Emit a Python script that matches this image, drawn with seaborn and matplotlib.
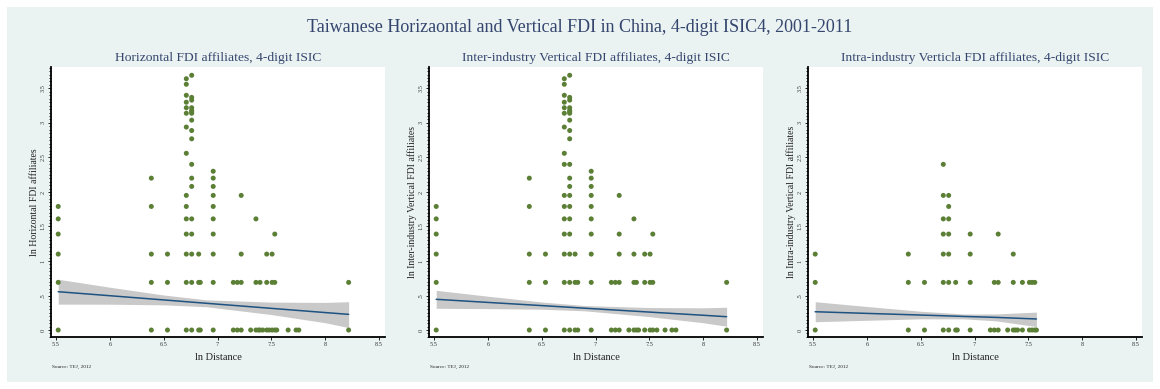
import matplotlib
matplotlib.use("Agg")
import matplotlib.pyplot as plt
from matplotlib.patches import Rectangle
from matplotlib.ticker import MultipleLocator, FixedLocator
import seaborn as sns
import pandas as pd

sns.set_theme(style="white")
plt.rcParams["font.family"] = ["Liberation Serif", "DejaVu Serif"]

# ---- data: ln distance vs ln number of affiliates ----
horiz_dist = [5.52]*6 + [6.385]*5 + [6.535]*3 + [6.71]*15 + [6.76]*18 + [6.825]*3 + [6.84]*2 \
    + [6.96]*10 + [7.147]*2 + [7.184]*2 + [7.22]*4 + [7.308] + [7.357]*3 + [7.38] + [7.395]*2 \
    + [7.42] + [7.457]*3 + [7.48] + [7.507]*3 + [7.532]*3 + [7.55] + [7.656] + [7.73] + [7.755] + [8.218]*2
horiz_aff = [0, 0.69, 1.10, 1.39, 1.61, 1.79,
             0, 0.69, 1.10, 1.79, 2.20,
             0, 0.69, 1.10,
             0, 0.69, 1.10, 1.39, 1.61, 1.79, 1.95, 2.56, 2.94, 3.14, 3.22, 3.30, 3.40, 3.56, 3.64,
             0, 0.69, 1.10, 1.39, 1.61, 2.08, 2.20, 2.40, 2.77, 2.89, 3.04, 3.14, 3.16, 3.18, 3.22, 3.33, 3.37, 3.69,
             0, 0.69, 1.10,
             0, 0.69,
             0, 0.69, 1.10, 1.39, 1.61, 1.79, 1.95, 2.08, 2.20, 2.30,
             0, 0.69,
             0, 0.69,
             0, 0.69, 1.10, 1.95,
             0,
             0, 0.69, 1.61,
             0,
             0, 0.69,
             0,
             0, 0.69, 1.10,
             0,
             0, 0.69, 1.10,
             0, 0.69, 1.39,
             0, 0, 0, 0,
             0, 0.69]

inter_dist = [5.52]*6 + [6.385]*5 + [6.535]*3 + [6.71]*16 + [6.76]*20 + [6.81]*3 + [6.835]*2 \
    + [6.96]*10 + [7.147]*2 + [7.184]*2 + [7.22]*5 + [7.31] + [7.357]*4 + [7.38]*2 + [7.40] \
    + [7.457]*3 + [7.507]*3 + [7.532]*3 + [7.57] + [7.646] + [7.71] + [7.747] + [8.218]*2
inter_aff = [0, 0.69, 1.10, 1.39, 1.61, 1.79,
             0, 0.69, 1.10, 1.79, 2.20,
             0, 0.69, 1.10,
             0, 0.69, 1.10, 1.39, 1.61, 1.79, 1.95, 2.40, 2.56, 2.94, 3.14, 3.22, 3.30, 3.40, 3.56, 3.64,
             0, 0.69, 1.10, 1.39, 1.61, 1.79, 1.95, 2.08, 2.20, 2.40, 2.77, 2.89, 3.04, 3.14, 3.16, 3.18,
             3.22, 3.33, 3.37, 3.69,
             0, 0.69, 1.10,
             0, 0.69,
             0, 0.69, 1.10, 1.39, 1.61, 1.79, 1.95, 2.08, 2.20, 2.30,
             0, 0.69,
             0, 0.69,
             0, 0.69, 1.10, 1.39, 1.95,
             0,
             0, 0.69, 1.10, 1.61,
             0, 0.69,
             0,
             0, 0.69, 1.10,
             0, 0.69, 1.10,
             0, 0.69, 1.39,
             0, 0, 0, 0,
             0, 0.69]

intra_dist = [5.52]*3 + [6.385]*3 + [6.535]*2 + [6.71]*7 + [6.76]*7 + [6.825]*2 + [6.84] \
    + [6.96]*4 + [7.147] + [7.184]*2 + [7.22]*3 + [7.308] + [7.36]*3 + [7.38] + [7.40] \
    + [7.445]*2 + [7.51]*2 + [7.535]*2 + [7.56]*2 + [7.575]
intra_aff = [0, 0.69, 1.10,
             0, 0.69, 1.10,
             0, 0.69,
             0, 0.69, 1.10, 1.39, 1.61, 1.95, 2.40,
             0, 0.69, 1.10, 1.39, 1.61, 1.79, 1.95,
             0, 0.69,
             0,
             0, 0.69, 1.10, 1.39,
             0,
             0, 0.69,
             0, 0.69, 1.39,
             0,
             0, 0.69, 1.10,
             0, 0,
             0, 0.69,
             0, 0.69,
             0, 0.69,
             0, 0.69,
             0]

# linear fit with 95% confidence band
horiz_fit_x = [5.52, 6.0, 6.5, 6.9, 7.5, 8.0, 8.218]
horiz_fit_y = [0.555, 0.497, 0.436, 0.387, 0.314, 0.253, 0.227]
horiz_fit_lo = [0.375, 0.374, 0.365, 0.337, 0.224, 0.106, 0.035]
horiz_fit_hi = [0.735, 0.620, 0.507, 0.437, 0.404, 0.400, 0.410]

inter_fit_x = [5.52, 6.0, 6.5, 6.9, 7.5, 8.0, 8.218]
inter_fit_y = [0.445, 0.400, 0.354, 0.316, 0.260, 0.214, 0.193]
inter_fit_lo = [0.315, 0.310, 0.302, 0.278, 0.194, 0.106, 0.055]
inter_fit_hi = [0.575, 0.490, 0.406, 0.354, 0.326, 0.322, 0.330]

intra_fit_x = [5.52, 6.0, 6.5, 6.9, 7.2, 7.575]
intra_fit_y = [0.265, 0.241, 0.217, 0.197, 0.183, 0.160]
intra_fit_lo = [0.120, 0.141, 0.162, 0.162, 0.133, 0.050]
intra_fit_hi = [0.410, 0.341, 0.272, 0.232, 0.233, 0.260]

panel_titles = ["Horizontal FDI affiliates, 4-digit ISIC",
                "Inter-industry Vertical FDI affiliates, 4-digit ISIC",
                "Intra-industry Verticla FDI affiliates, 4-digit ISIC"]
y_labels = ["ln Horizontal FDI affiliates",
            "ln Inter-industry Vertical FDI affiliates",
            "ln Intra-industry Vertical FDI affiliates"]
x_label = "ln Distance"
x_ticks = [5.5, 6, 6.5, 7, 7.5, 8, 8.5]
x_tick_labels = ["5.5", "6", "6.5", "7", "7.5", "8", "8.5"]
y_ticks = [0, 0.5, 1, 1.5, 2, 2.5, 3, 3.5]
y_tick_labels = ["0", ".5", "1", "1.5", "2", "2.5", "3", "3.5"]
main_title = "Taiwanese Horizaontal and Vertical FDI in China, 4-digit ISIC4, 2001-2011"
source_note = "Source: TEJ, 2012"

# ---- styling ----
BG = "#EAF2F2"
TITLE_C = "#35466E"
DOT_C = "#5C7F36"
LINE_C = "#1D5281"
BAND_C = "#C9C9C9"

W, H = 1160, 389
fig = plt.figure(figsize=(W / 100, H / 100), dpi=100, facecolor="white")
fig.patches.append(Rectangle((7 / W, 7 / H), (1153 - 7) / W, (382 - 7) / H,
                             transform=fig.transFigure, facecolor=BG, edgecolor="none",
                             zorder=-10))

fig.text(0.5, 1 - 27 / H, main_title, ha="center", va="center", fontsize=13, color=TITLE_C)

panels = [
    (horiz_dist, horiz_aff, horiz_fit_x, horiz_fit_y, horiz_fit_lo, horiz_fit_hi),
    (inter_dist, inter_aff, inter_fit_x, inter_fit_y, inter_fit_lo, inter_fit_hi),
    (intra_dist, intra_aff, intra_fit_x, intra_fit_y, intra_fit_lo, intra_fit_hi),
]
lefts = [51, 429, 808]
ax_w, ax_top, ax_bot = 334, 67, 337

for i, (dx, dy, fx, fy, flo, fhi) in enumerate(panels):
    ax = fig.add_axes([lefts[i] / W, (H - ax_bot) / H, ax_w / W, (ax_bot - ax_top) / H])
    ax.set_zorder(1)
    ax.set_facecolor("white")
    pts = pd.DataFrame({"dist": dx, "aff": dy})
    fit = pd.DataFrame({"dist": fx, "aff": fy})
    ax.fill_between(fx, flo, fhi, color=BAND_C, linewidth=0, zorder=1)
    sns.lineplot(data=fit, x="dist", y="aff", ax=ax, color=LINE_C, linewidth=1.1, zorder=2)
    sns.scatterplot(data=pts, x="dist", y="aff", ax=ax, color=DOT_C, s=13,
                    edgecolor="none", linewidth=0, zorder=3)

    ax.set_xlim(5.453, 8.556)
    ax.set_ylim(-0.101, 3.81)
    for s in ["top", "right"]:
        ax.spines[s].set_visible(False)
    for s in ["left", "bottom"]:
        ax.spines[s].set_visible(True)
        ax.spines[s].set_color("black")
        ax.spines[s].set_linewidth(1.3)

    ax.xaxis.set_major_locator(FixedLocator(x_ticks))
    ax.set_xticklabels(x_tick_labels)
    ax.yaxis.set_major_locator(FixedLocator(y_ticks))
    ax.set_yticklabels(y_tick_labels, rotation=90, va="center")
    ax.yaxis.set_minor_locator(MultipleLocator(0.05))
    ax.tick_params(axis="both", which="major", direction="out", length=2.5, width=0.6,
                   color="black", labelsize=4.5, labelcolor="#333333", pad=1.5,
                   left=True, bottom=True)
    ax.tick_params(axis="y", which="minor", direction="out", length=1.5, width=0.6,
                   color="black", left=True)
    ax.tick_params(axis="x", pad=0.8)

    ax.set_xlabel(x_label, fontsize=7.5, color="#222222")
    ax.xaxis.set_label_coords(0.5, -0.06)
    ax.set_ylabel(y_labels[i], fontsize=7, color="#222222")
    ax.yaxis.set_label_coords(-0.037, 0.5)
    ax.grid(False)

    fig.text((lefts[i] + ax_w / 2) / W, 1 - 58 / H, panel_titles[i], ha="center", va="center",
             fontsize=9.7, color=TITLE_C)
    ax.text(0.003, -0.111, source_note, transform=ax.transAxes, fontsize=3.8,
            ha="left", va="center", color="#222222")

fig.savefig("out.png", dpi=100, facecolor="white")
